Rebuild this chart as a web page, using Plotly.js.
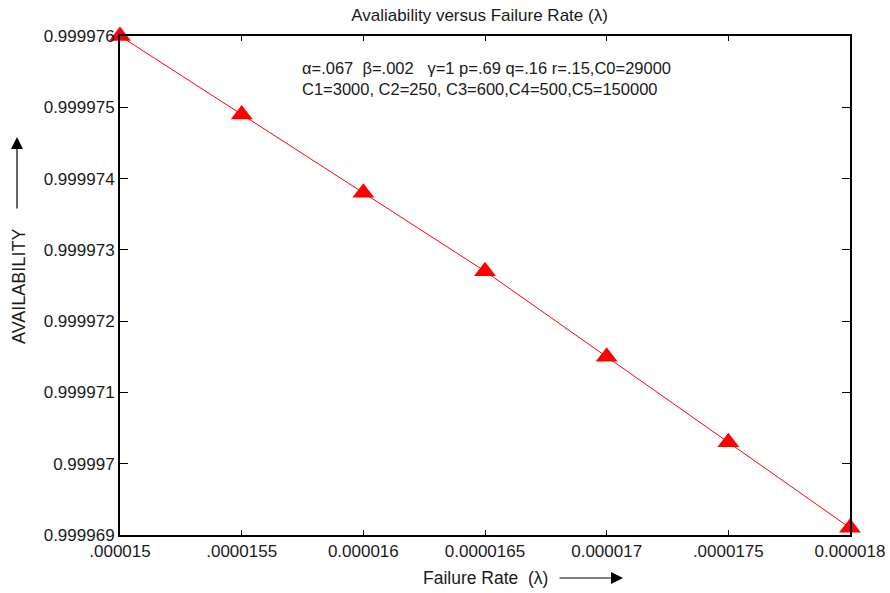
<!DOCTYPE html>
<html>
<head>
<meta charset="utf-8">
<script src="https://cdn.plot.ly/plotly-3.0.1.min.js"></script>
<style>html,body{margin:0;padding:0;background:#fff}#chart{width:890px;height:593px}</style>
</head>
<body>
<div id="chart"></div>
<script>
// Data
const failureRate = [0.000015, 0.0000155, 0.000016, 0.0000165, 0.000017, 0.0000175, 0.000018];
const availability = [0.999976, 0.9999749, 0.9999738, 0.9999727, 0.9999715, 0.9999703, 0.9999691];
const xTickVals = [0.000015, 0.0000155, 0.000016, 0.0000165, 0.000017, 0.0000175, 0.000018];
const xTickText = ['.000015', '.0000155', '0.000016', '0.0000165', '0.000017', '.0000175', '0.000018'];
const yTickVals = [0.999969, 0.99997, 0.999971, 0.999972, 0.999973, 0.999974, 0.999975, 0.999976];
const yTickText = ['0.999969', '0.99997', '0.999971', '0.999972', '0.999973', '0.999974', '0.999975', '0.999976'];
const chartTitle = 'Avaliability versus Failure Rate (\u03bb)';
const xTitle = 'Failure Rate \u00a0(\u03bb)';
const yTitle = 'AVAILABILITY';
const paramLine1 = '\u03b1=.067 \u00a0\u03b2=.002 \u00a0\u00a0\u03b3=1 p=.69 q=.16 r=.15,C0=29000';
const paramLine2 = 'C1=3000, C2=250, C3=600,C4=500,C5=150000';

const FONT = 'Liberation Sans, Arial, sans-serif';

const trace = {
  x: failureRate,
  y: availability,
  type: 'scatter',
  mode: 'lines+markers',
  line: {color: '#ff0000', width: 1},
  marker: {symbol: 'triangle-up', size: 19, color: '#ff0000', line: {width: 0}},
  cliponaxis: false,
  showlegend: false
};

const axisCommon = {
  showline: true, linecolor: '#000', linewidth: 2, mirror: 'ticks',
  ticks: 'inside', tickcolor: '#000', tickwidth: 1,
  showgrid: false, zeroline: false,
  tickfont: {family: FONT, size: 17, color: '#1a1a1a'},
  tickmode: 'array'
};

const layout = {
  width: 890, height: 593,
  margin: {l: 120, r: 40, t: 36, b: 58},
  paper_bgcolor: '#fff', plot_bgcolor: '#fff',
  font: {family: FONT, color: '#1a1a1a'},
  title: {text: chartTitle, font: {family: FONT, size: 17, color: '#1a1a1a'},
          x: 479.5/890, xanchor: 'center', xref: 'container', y: (593-15)/593, yanchor: 'middle', yref: 'container'},
  xaxis: Object.assign({}, axisCommon, {
    range: [0.000015, 0.000018], tickvals: xTickVals, ticktext: xTickText, ticklen: 5
  }),
  yaxis: Object.assign({}, axisCommon, {
    range: [0.999969, 0.999976], tickvals: yTickVals, ticktext: yTickText, ticklen: 8
  }),
  annotations: [
    {xref: 'paper', yref: 'paper', x: (300-120)/730, y: (535-57)/499, xanchor: 'left', yanchor: 'top',
     align: 'left', showarrow: false, text: paramLine1 + '<br>' + paramLine2,
     font: {family: FONT, size: 16.5, color: '#1a1a1a'}},
    {xref: 'paper', yref: 'paper', x: (485-120)/730, y: (535-578)/499, xanchor: 'center', yanchor: 'middle',
     showarrow: false, text: xTitle, font: {family: FONT, size: 17.5, color: '#1a1a1a'}},
    {xref: 'paper', yref: 'paper', x: (19-120)/730, y: (535-287)/499, xanchor: 'center', yanchor: 'middle',
     showarrow: false, text: yTitle, textangle: -90, font: {family: FONT, size: 18, color: '#1a1a1a'}},
    {xref: 'paper', yref: 'paper', x: (623-120)/730, y: (535-578)/499, ax: -65, ay: 0, axref: 'pixel', ayref: 'pixel',
     text: '', showarrow: true, arrowhead: 2, arrowsize: 2, arrowwidth: 1.2, arrowcolor: '#000'},
    {xref: 'paper', yref: 'paper', x: (17-120)/730, y: (535-137)/499, ax: 0, ay: 73, axref: 'pixel', ayref: 'pixel',
     text: '', showarrow: true, arrowhead: 2, arrowsize: 2, arrowwidth: 1.2, arrowcolor: '#000'}
  ]
};

Plotly.newPlot('chart', [trace], layout, {displayModeBar: false, staticPlot: true});
</script>
</body>
</html>
